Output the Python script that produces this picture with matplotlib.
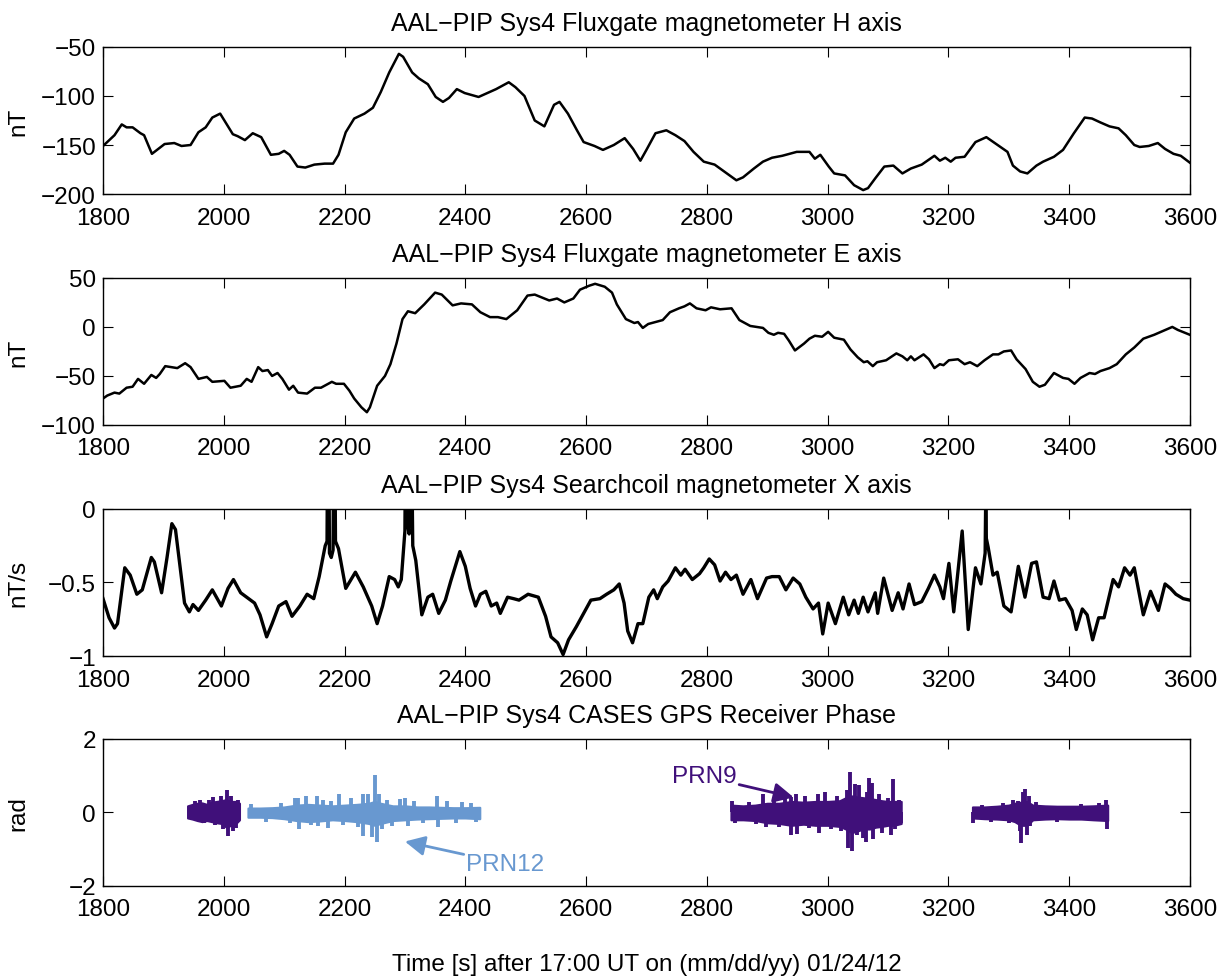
import matplotlib
matplotlib.use('Agg')
import matplotlib.pyplot as plt
import numpy as np

plt.rcParams['font.family'] = ['Liberation Sans', 'DejaVu Sans']

# ---- Fluxgate H axis (s, nT) ----
h_t = [1800, 1819, 1831, 1839, 1849, 1862, 1868, 1881, 1902, 1918, 1930, 1945, 1958, 1970, 1981, 1994,
       2004, 2015, 2023, 2035, 2048, 2062, 2078, 2091, 2100, 2109, 2122, 2135, 2150, 2167, 2181, 2190,
       2202, 2216, 2233, 2247, 2260, 2274, 2290, 2297, 2312, 2323, 2338, 2351, 2363, 2373, 2386, 2399,
       2422, 2451, 2472, 2483, 2498, 2515, 2531, 2547, 2556, 2570, 2585, 2596, 2614, 2628, 2646, 2664,
       2678, 2690, 2700, 2715, 2733, 2748, 2763, 2778, 2795, 2813, 2831, 2849, 2860, 2878, 2893, 2908,
       2925, 2949, 2970, 2979, 2988, 3002, 3011, 3029, 3044, 3059, 3067, 3079, 3094, 3109, 3124, 3138,
       3156, 3177, 3186, 3195, 3204, 3212, 3227, 3245, 3263, 3277, 3298, 3307, 3319, 3331, 3346, 3357,
       3375, 3390, 3408, 3426, 3438, 3452, 3467, 3482, 3494, 3508, 3517, 3532, 3547, 3559, 3573, 3585, 3600]
h_nt = [-151, -140, -129, -132, -132, -138, -140, -159, -149, -148, -151, -150, -137, -132, -122, -118,
        -128, -139, -141, -145, -138, -142, -160, -159, -156, -160, -172, -173, -170, -169, -169, -160,
        -137, -123, -118, -112, -96, -76, -57, -60, -76, -82, -88, -101, -106, -102, -93, -97,
        -101, -93, -86, -91, -100, -125, -131, -109, -106, -118, -135, -147, -151, -155, -150, -143,
        -154, -166, -155, -138, -135, -140, -146, -157, -167, -170, -178, -186, -183, -174, -167, -163,
        -161, -157, -157, -164, -160, -172, -179, -181, -191, -196, -194, -184, -172, -171, -179, -174,
        -170, -161, -166, -163, -167, -163, -162, -147, -142, -148, -157, -171, -177, -179, -171, -167,
        -162, -155, -138, -122, -123, -127, -131, -133, -140, -150, -152, -151, -148, -154, -159, -161, -168]

# ---- Fluxgate E axis (s, nT) ----
e_t = [1800, 1807, 1819, 1827, 1839, 1849, 1858, 1868, 1880, 1888, 1894, 1903, 1923, 1936, 1945, 1958,
       1972, 1981, 2001, 2011, 2028, 2038, 2046, 2057, 2064, 2073, 2080, 2089, 2097, 2108, 2115, 2123,
       2138, 2151, 2161, 2179, 2186, 2199, 2208, 2216, 2228, 2237, 2242, 2254, 2267, 2276, 2286, 2296,
       2305, 2317, 2332, 2350, 2361, 2379, 2393, 2411, 2425, 2441, 2454, 2468, 2486, 2503, 2515, 2527,
       2539, 2552, 2564, 2579, 2590, 2605, 2615, 2631, 2643, 2651, 2666, 2680, 2686, 2694, 2703, 2715,
       2727, 2739, 2754, 2763, 2772, 2783, 2798, 2807, 2822, 2841, 2854, 2872, 2893, 2902, 2911, 2918,
       2928, 2936, 2946, 2961, 2970, 2979, 2991, 3001, 3011, 3027, 3038, 3050, 3060, 3066, 3075, 3082,
       3097, 3114, 3124, 3132, 3138, 3144, 3159, 3168, 3177, 3186, 3192, 3201, 3216, 3227, 3236, 3248,
       3260, 3274, 3283, 3292, 3304, 3313, 3328, 3340, 3351, 3360, 3375, 3390, 3399, 3409, 3419, 3434,
       3443, 3452, 3467, 3479, 3494, 3508, 3523, 3541, 3556, 3571, 3580, 3592, 3600]
e_nt = [-73, -70, -67, -68, -62, -61, -53, -58, -49, -52, -48, -40, -42, -37, -41, -53,
        -51, -56, -55, -62, -60, -53, -56, -41, -45, -44, -50, -47, -53, -64, -60, -67,
        -68, -62, -62, -56, -58, -58, -65, -73, -82, -87, -82, -60, -50, -38, -17, 8,
        16, 14, 23, 35, 33, 22, 24, 23, 15, 10, 10, 8, 17, 32, 33, 30,
        27, 29, 25, 29, 38, 42, 44, 41, 35, 23, 8, 4, 5, -1, 3, 5,
        7, 15, 19, 21, 24, 19, 17, 20, 18, 19, 7, 1, -1, -6, -8, -6,
        -7, -14, -24, -17, -12, -9, -10, -5, -11, -13, -23, -31, -36, -35, -40, -36,
        -34, -27, -30, -34, -30, -34, -28, -33, -42, -38, -39, -34, -33, -38, -36, -40,
        -34, -28, -28, -25, -24, -33, -43, -56, -61, -59, -47, -52, -53, -58, -52, -47,
        -48, -45, -42, -38, -28, -21, -12, -8, -4, 0, -3, -6, -8]

# ---- Searchcoil X axis (s, nT/s) ----
x_t = [1800, 1810, 1819, 1824, 1836, 1845, 1856, 1865, 1880, 1885, 1897, 1906, 1914, 1920, 1935, 1943,
       1949, 1958, 1970, 1981, 1996, 2007, 2016, 2028, 2051, 2060, 2071, 2080, 2091, 2103, 2113, 2126,
       2138, 2149, 2158, 2168, 2171, 2172, 2174, 2175, 2178, 2181, 2182, 2184, 2185, 2190, 2202, 2218,
       2231, 2245, 2254, 2263, 2274, 2283, 2289, 2294, 2300, 2301, 2303, 2305, 2307, 2309, 2311, 2313,
       2318, 2328, 2338, 2346, 2356, 2367, 2376, 2391, 2400, 2408, 2417, 2425, 2434, 2443, 2452, 2458,
       2470, 2480, 2489, 2504, 2521, 2533, 2542, 2553, 2562, 2571, 2584, 2596, 2608, 2623, 2634, 2646,
       2655, 2663, 2669, 2677, 2686, 2694, 2704, 2712, 2718, 2727, 2736, 2748, 2757, 2764, 2776, 2788,
       2795, 2804, 2813, 2822, 2831, 2840, 2849, 2860, 2873, 2884, 2899, 2908, 2920, 2931, 2943, 2954,
       2964, 2976, 2985, 2992, 3001, 3013, 3026, 3035, 3044, 3051, 3059, 3067, 3079, 3083, 3093, 3107,
       3117, 3125, 3135, 3144, 3156, 3167, 3177, 3186, 3192, 3201, 3209, 3223, 3233, 3245, 3254, 3261,
       3262, 3263, 3266, 3274, 3281, 3292, 3304, 3316, 3327, 3338, 3346, 3357, 3367, 3375, 3384, 3394,
       3405, 3412, 3422, 3430, 3439, 3449, 3458, 3473, 3482, 3492, 3501, 3508, 3523, 3535, 3548, 3559,
       3568, 3577, 3589, 3600]
x_nts = [-0.61, -0.74, -0.81, -0.78, -0.40, -0.45, -0.58, -0.55, -0.33, -0.36, -0.57, -0.33, -0.10, -0.14, -0.64, -0.70,
         -0.65, -0.69, -0.62, -0.55, -0.66, -0.54, -0.48, -0.57, -0.64, -0.72, -0.87, -0.78, -0.66, -0.63, -0.73, -0.66,
         -0.58, -0.61, -0.46, -0.25, -0.22, 0.5, 0.5, -0.30, -0.33, -0.28, 0.5, 0.5, -0.22, -0.27, -0.54, -0.43,
         -0.53, -0.66, -0.78, -0.66, -0.46, -0.48, -0.53, -0.48, -0.15, 0.5, 0.5, -0.12, -0.17, 0.5, 0.5, -0.25,
         -0.35, -0.72, -0.60, -0.58, -0.71, -0.62, -0.49, -0.29, -0.39, -0.54, -0.66, -0.58, -0.56, -0.66, -0.64, -0.71,
         -0.60, -0.61, -0.62, -0.58, -0.60, -0.73, -0.87, -0.91, -0.99, -0.89, -0.80, -0.71, -0.62, -0.61, -0.58, -0.55,
         -0.51, -0.64, -0.83, -0.91, -0.78, -0.78, -0.60, -0.55, -0.61, -0.53, -0.49, -0.40, -0.45, -0.41, -0.48, -0.44,
         -0.40, -0.34, -0.38, -0.49, -0.43, -0.48, -0.45, -0.58, -0.48, -0.61, -0.47, -0.46, -0.46, -0.55, -0.47, -0.51,
         -0.60, -0.68, -0.64, -0.85, -0.64, -0.78, -0.60, -0.72, -0.62, -0.71, -0.60, -0.70, -0.57, -0.71, -0.47, -0.69,
         -0.57, -0.68, -0.51, -0.65, -0.63, -0.54, -0.45, -0.53, -0.61, -0.37, -0.70, -0.15, -0.82, -0.40, -0.51, -0.30,
         0.1, -0.20, -0.26, -0.45, -0.43, -0.66, -0.70, -0.39, -0.60, -0.37, -0.36, -0.60, -0.61, -0.49, -0.62, -0.61,
         -0.69, -0.82, -0.68, -0.72, -0.89, -0.74, -0.74, -0.48, -0.53, -0.40, -0.45, -0.40, -0.72, -0.56, -0.69, -0.51,
         -0.54, -0.58, -0.61, -0.62]

# ---- GPS phase (rad): band envelopes and spikes per pass ----
# PRN9 pass 1
g1_t = [1940, 1948, 1956, 1964, 1972, 1980, 1988, 1996, 2004, 2012, 2020, 2026]
g1_hi = [0.18, 0.22, 0.25, 0.26, 0.22, 0.28, 0.30, 0.32, 0.35, 0.30, 0.30, 0.25]
g1_lo = [-0.15, -0.18, -0.22, -0.25, -0.22, -0.25, -0.28, -0.30, -0.40, -0.35, -0.30, -0.20]
g1_spk_t = [1952, 1960, 1968, 1975, 1982, 1986, 1995, 1999, 2005, 2007, 2012, 2015, 2020, 2024]
g1_spk_v = [0.30, 0.33, -0.30, 0.35, 0.42, -0.33, 0.44, -0.44, 0.60, -0.64, 0.45, -0.50, -0.42, 0.35]

# PRN12
g2_t = [2040, 2060, 2080, 2100, 2120, 2140, 2160, 2180, 2200, 2220, 2240, 2250, 2260, 2280, 2300, 2320,
        2340, 2360, 2380, 2400, 2424]
g2_hi = [0.12, 0.12, 0.13, 0.15, 0.20, 0.22, 0.20, 0.18, 0.20, 0.22, 0.25, 0.30, 0.25, 0.18, 0.18, 0.15,
         0.15, 0.14, 0.13, 0.13, 0.14]
g2_lo = [-0.13, -0.13, -0.14, -0.17, -0.22, -0.25, -0.23, -0.20, -0.22, -0.25, -0.30, -0.35, -0.30, -0.22, -0.20, -0.18,
         -0.17, -0.16, -0.15, -0.15, -0.17]
g2_spk_t = [2045, 2070, 2095, 2110, 2118, 2123, 2125, 2137, 2145, 2154, 2156, 2165, 2172, 2178, 2191, 2198,
            2210, 2222, 2230, 2231, 2239, 2245, 2251, 2254, 2257, 2262, 2270, 2278, 2292, 2300, 2305, 2315,
            2330, 2353, 2355, 2370, 2385, 2395, 2410, 2418]
g2_spk_v = [0.22, -0.25, 0.25, -0.30, 0.38, 0.40, -0.44, 0.44, -0.35, 0.46, -0.37, 0.35, -0.42, 0.30, 0.49, -0.35,
            0.40, -0.40, 0.49, -0.65, 0.50, -0.67, 1.02, -0.80, 0.50, -0.45, 0.35, -0.38, 0.37, 0.40, -0.38, 0.30,
            -0.30, 0.44, -0.40, 0.30, -0.30, 0.28, 0.25, -0.25]

# PRN9 pass 2
g3_t = [2840, 2860, 2880, 2900, 2920, 2940, 2960, 2980, 3000, 3020, 3030, 3040, 3050, 3060, 3070, 3080,
        3090, 3100, 3110, 3122]
g3_hi = [0.20, 0.18, 0.20, 0.25, 0.25, 0.30, 0.28, 0.30, 0.30, 0.32, 0.40, 0.45, 0.42, 0.40, 0.38, 0.35,
         0.32, 0.30, 0.30, 0.30]
g3_lo = [-0.20, -0.20, -0.22, -0.28, -0.30, -0.35, -0.32, -0.35, -0.35, -0.38, -0.45, -0.55, -0.50, -0.45, -0.45, -0.40,
         -0.38, -0.35, -0.35, -0.30]
g3_spk_t = [2842, 2846, 2870, 2882, 2893, 2898, 2912, 2920, 2930, 2939, 2940, 2947, 2950, 2962, 2970, 2984,
            2986, 2995, 3005, 3015, 3022, 3032, 3034, 3037, 3041, 3045, 3048, 3052, 3058, 3063, 3065, 3069,
            3073, 3075, 3085, 3090, 3100, 3105, 3109, 3112, 3118, 3121]
g3_spk_v = [0.30, -0.30, 0.28, -0.32, 0.51, -0.40, 0.35, -0.40, 0.40, 0.42, -0.60, 0.49, -0.58, 0.45, -0.42, 0.50,
            -0.55, 0.55, -0.45, 0.45, -0.50, 0.62, -0.97, 1.10, -1.05, 0.77, -0.60, 0.75, -0.70, -0.80, 0.55, 0.93,
            0.80, -0.72, 0.50, -0.55, 0.40, -0.60, 0.90, -0.45, 0.35, -0.30]

# PRN9 pass 3
g4_t = [3240, 3260, 3280, 3300, 3310, 3320, 3330, 3340, 3360, 3380, 3400, 3420, 3440, 3464]
g4_hi = [0.15, 0.15, 0.17, 0.20, 0.25, 0.28, 0.30, 0.20, 0.18, 0.17, 0.17, 0.17, 0.18, 0.20]
g4_lo = [-0.15, -0.17, -0.18, -0.20, -0.25, -0.35, -0.35, -0.20, -0.18, -0.17, -0.18, -0.18, -0.20, -0.22]
g4_spk_t = [3241, 3255, 3270, 3290, 3300, 3307, 3315, 3318, 3320, 3324, 3327, 3330, 3333, 3336, 3345, 3380,
            3420, 3450, 3462, 3463]
g4_spk_v = [-0.30, 0.20, -0.25, 0.25, -0.28, 0.35, 0.30, -0.50, -0.83, 0.55, 0.65, -0.62, 0.45, -0.38, 0.28, -0.25,
            0.22, 0.25, 0.35, -0.45]

dark = '#40107A'
light = '#6898D0'
fs = 17.5

fig = plt.figure(figsize=(12.28, 9.79), dpi=100)
left, width, height = 0.0839, 0.885, 0.1502
bottoms = [0.8008, 0.5649, 0.3289, 0.0940]
axes = [fig.add_axes([left, b, width, height]) for b in bottoms]

titles = ['AAL\u2212PIP Sys4 Fluxgate magnetometer H axis',
          'AAL\u2212PIP Sys4 Fluxgate magnetometer E axis',
          'AAL\u2212PIP Sys4 Searchcoil magnetometer X axis',
          'AAL\u2212PIP Sys4 CASES GPS Receiver Phase']
ylabels = ['nT', 'nT', 'nT/s', 'rad']

axes[0].plot(h_t, h_nt, color='black', lw=1.8)
axes[0].set_ylim(-200, -50)
axes[0].set_yticks([-200, -150, -100, -50])

axes[1].plot(e_t, e_nt, color='black', lw=1.8)
axes[1].set_ylim(-100, 50)
axes[1].set_yticks([-100, -50, 0, 50])

axes[2].plot(x_t, x_nts, color='black', lw=2.4)
axes[2].set_ylim(-1, 0)
axes[2].set_yticks([-1, -0.5, 0], ['\u22121', '\u22120.5', '0'])

ax = axes[3]
for t, hi, lo, st, sv, c in [(g1_t, g1_hi, g1_lo, g1_spk_t, g1_spk_v, dark),
                             (g2_t, g2_hi, g2_lo, g2_spk_t, g2_spk_v, light),
                             (g3_t, g3_hi, g3_lo, g3_spk_t, g3_spk_v, dark),
                             (g4_t, g4_hi, g4_lo, g4_spk_t, g4_spk_v, dark)]:
    ax.fill_between(t, lo, hi, color=c, lw=1.5, edgecolor=c)
    ax.vlines(st, 0, sv, color=c, lw=2.8)
ax.set_ylim(-2, 2)
ax.set_yticks([-2, 0, 2], ['\u22122', '0', '2'])
ax.annotate('PRN9', xy=(2944, 0.41), xytext=(2742, 0.98), color=dark, fontsize=fs,
            ha='left', va='center',
            arrowprops=dict(arrowstyle='-|>', color=dark, lw=2, mutation_scale=30, shrinkA=0, shrinkB=0))
ax.annotate('PRN12', xy=(2300, -0.79), xytext=(2402, -1.39), color=light, fontsize=fs,
            ha='left', va='center',
            arrowprops=dict(arrowstyle='-|>', color=light, lw=2, mutation_scale=30, shrinkA=0, shrinkB=0))

for a, title, yl in zip(axes, titles, ylabels):
    a.set_xlim(1800, 3600)
    a.set_xticks(range(1800, 3601, 200))
    a.tick_params(direction='in', top=True, right=True, length=7, width=0.8,
                  labelsize=fs, pad=9)
    a.tick_params(axis='y', pad=5)
    for s in a.spines.values():
        s.set_linewidth(1.0)
    a.set_title(title, fontsize=18, pad=12)
    a.set_ylabel(yl, fontsize=fs, va='center')
    a.yaxis.set_label_coords(-0.078, 0.5)

axes[3].set_xlabel('Time [s] after 17:00 UT on (mm/dd/yy) 01/24/12', fontsize=fs, va='center')
axes[3].xaxis.set_label_coords(0.5, -0.531)

fig.savefig('out.png', dpi=100)
